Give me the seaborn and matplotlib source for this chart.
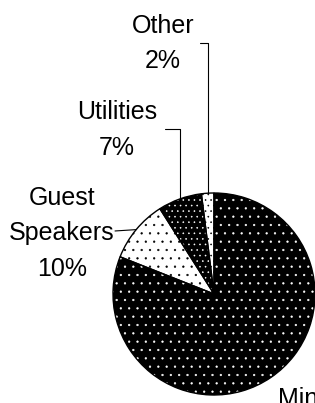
import numpy as np
import matplotlib
matplotlib.use('Agg')
import matplotlib.pyplot as plt
import seaborn as sns

# Data (counter-clockwise from 12 o'clock)
categories = ['Other', 'Utilities', 'Guest\nSpeakers', 'Ministry']
shares = [2, 7, 10, 81]

# Label placement (data units, pie radius = 1)
label_pos = [(-0.505, 2.48), (-0.960, 1.625), (-1.505, 0.60), (0.634, -0.921)]
leader_start = [(-0.139, 2.485), (-0.485, 1.634), (-0.980, 0.624), None]

sns.set_style('white')
plt.rcParams['font.family'] = ['Liberation Sans', 'DejaVu Sans']
plt.rcParams['hatch.linewidth'] = 0.4
plt.rcParams['text.color'] = 'black'

fig = plt.figure(figsize=(3.15, 4.03), dpi=100)
ax = fig.add_axes([0, 0, 1, 1])

faces = ['white', 'black', 'white', 'black']
dot_colors = ['black', 'white', 'black', 'white']
hatches = ['...', '...', '..', '..']

# filled wedges with dotted hatch (hatch colour follows edge colour)
wedges, _ = ax.pie(shares, startangle=90, counterclock=True, colors=faces,
                   wedgeprops=dict(linewidth=0))
for w, h, c in zip(wedges, hatches, dot_colors):
    w.set_hatch(h)
    w.set_edgecolor(c)
    w.set_linewidth(0)

# black outlines on top
ax.pie(shares, startangle=90, counterclock=True,
       wedgeprops=dict(fill=False, edgecolor='black', linewidth=1))

# labels and leader lines
cum = np.cumsum(shares)
for i, (name, val) in enumerate(zip(categories, shares)):
    x, y = label_pos[i]
    if name == 'Ministry':
        ax.text(x, y, f'{name}\n{val}%', ha='left', va='top', fontsize=18,
                linespacing=1.6, color='black')
        continue
    ax.text(x, y, f'{name}\n{val}%', ha='center', va='center', fontsize=18,
            linespacing=1.6, color='black')
    theta = np.deg2rad(90 + 360 * (cum[i] - val / 2) / 100)
    wx, wy = np.cos(theta), np.sin(theta)
    sx, sy = leader_start[i]
    if name.startswith('Guest'):
        ax.plot([sx, wx], [sy, wy], color='black', lw=0.8)
    else:
        ax.plot([sx, wx, wx], [sy, sy, wy], color='black', lw=0.8)

ax.set_xlim(-214 / 101, 101 / 101)
ax.set_ylim(-109 / 101, 294 / 101)
ax.set_aspect('equal')
ax.axis('off')

fig.savefig('out.png', dpi=100)
